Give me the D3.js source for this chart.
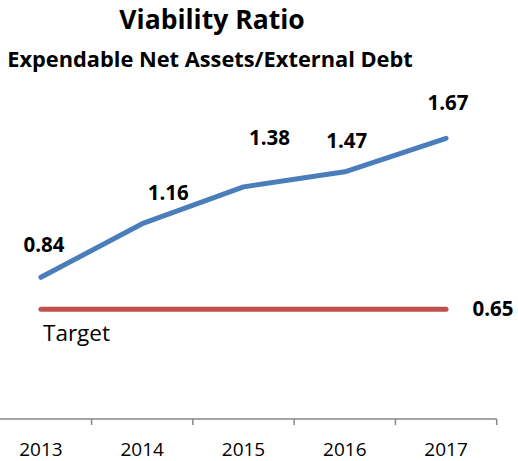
<!DOCTYPE html>
<html><head><meta charset="utf-8">
<script src="https://cdn.jsdelivr.net/npm/d3@7"></script>
<style>body{margin:0;background:#fff}svg{display:block}text{font-family:"Open Sans",Lato,sans-serif}</style>
</head><body>
<script>
const years = ["2013","2014","2015","2016","2017"];
const ratios = [0.84, 1.16, 1.38, 1.47, 1.67];
const targetValue = 0.65;
const targetLabel = "Target";
const title = "Viability Ratio";
const subtitle = "Expendable Net Assets/External Debt";
// label placement nudges (pixels) for the data labels
const labelDx = [3, 26, 26, 2, 2];
const labelDy = [-32, -31, -49, -31, -35];

const W = 518, H = 461;
const svg = d3.select("body").append("svg").attr("width", W).attr("height", H);

const x = d3.scaleBand().domain(years).range([-9.7, 496.7]).paddingInner(0).paddingOuter(0);
const y = d3.scaleLinear().domain([0, 2]).range([418, 83]);
const cx = d => x(d) + x.bandwidth() / 2;

svg.append("text").attr("x", 212).attr("y", 29).attr("text-anchor", "middle")
  .attr("font-weight", "bold").attr("font-size", 26.5).attr("fill", "#000").text(title);
svg.append("text").attr("x", 210).attr("y", 67).attr("text-anchor", "middle")
  .attr("font-weight", "bold").attr("font-size", 21.8).attr("fill", "#000").text(subtitle);

// x axis
const axisY = 419;
const axisG = svg.append("g").attr("transform", `translate(0,${axisY})`);
axisG.append("line").attr("x1", 0).attr("x2", x.range()[1]).attr("y1", 0).attr("y2", 0)
  .attr("stroke", "#878787").attr("stroke-width", 1.5);
axisG.selectAll("line.tick").data(years.map(d => x(d) + x.bandwidth())).join("line")
  .attr("class", "tick").attr("x1", d => d).attr("x2", d => d).attr("y1", 0).attr("y2", 6)
  .attr("stroke", "#878787").attr("stroke-width", 1.5);
const lab = d3.axisBottom(x).tickSize(0).tickPadding(0);
const la = svg.append("g").attr("transform", `translate(0,${axisY})`).call(lab);
la.select(".domain").remove();
la.selectAll("text").attr("font-size", 19).attr("fill", "#000").attr("dy", null).attr("y", 36.5)
  .style("font-family", "'Open Sans', Lato, sans-serif");

// target line
svg.append("line").attr("x1", cx(years[0])).attr("x2", cx(years[years.length - 1]))
  .attr("y1", y(targetValue)).attr("y2", y(targetValue))
  .attr("stroke", "#C0504D").attr("stroke-width", 5).attr("stroke-linecap", "round");
svg.append("text").attr("x", 493).attr("y", y(targetValue)).attr("dy", "0.35em").attr("text-anchor", "middle")
  .attr("font-weight", "bold").attr("font-size", 20.5).text(targetValue.toFixed(2));
svg.append("text").attr("x", 43).attr("y", y(targetValue) + 24).attr("dy", "0.35em")
  .attr("font-size", 22.5).text(targetLabel);

// ratio line
const line = d3.line().x((d, i) => cx(years[i])).y(d => y(d));
svg.append("path").datum(ratios).attr("d", line).attr("fill", "none")
  .attr("stroke", "#4A7EBB").attr("stroke-width", 5).attr("stroke-linecap", "round").attr("stroke-linejoin", "round");
svg.selectAll("text.val").data(ratios).join("text").attr("class", "val")
  .attr("x", (d, i) => cx(years[i]) + labelDx[i]).attr("y", (d, i) => y(d) + labelDy[i])
  .attr("dy", "0.35em").attr("text-anchor", "middle").attr("font-weight", "bold").attr("font-size", 20.5)
  .text(d => d.toFixed(2));
</script>
</body></html>
